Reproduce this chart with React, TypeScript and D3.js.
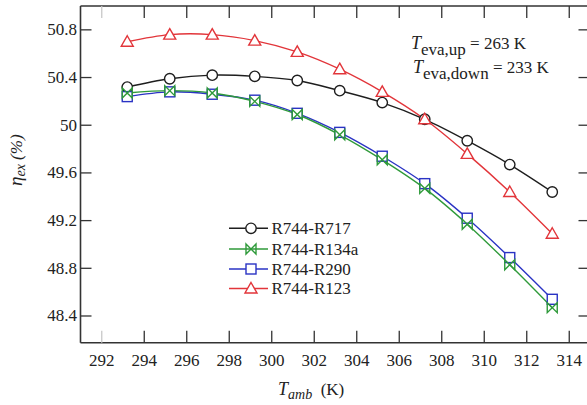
import React from "react";
import * as d3 from "d3";

const tamb = [293.2, 295.2, 297.2, 299.2, 301.2, 303.2, 305.2, 307.2, 309.2, 311.2, 313.2];
const r717 = [50.32, 50.39, 50.42, 50.41, 50.375, 50.29, 50.19, 50.05, 49.87, 49.67, 49.44];
const r134a = [50.27, 50.29, 50.27, 50.2, 50.09, 49.92, 49.71, 49.47, 49.17, 48.83, 48.47];
const r290 = [50.24, 50.28, 50.26, 50.21, 50.1, 49.94, 49.74, 49.51, 49.22, 48.89, 48.54];
const r123 = [50.7, 50.76, 50.76, 50.71, 50.615, 50.47, 50.28, 50.05, 49.76, 49.44, 49.09];
const xTicks = [292, 294, 296, 298, 300, 302, 304, 306, 308, 310, 312, 314];
const yTicks = [48.4, 48.8, 49.2, 49.6, 50.0, 50.4, 50.8];
const yTickLabels = ["48.4", "48.8", "49.2", "49.6", "50", "50.4", "50.8"];

const seriesNames = ["R744-R717", "R744-R134a", "R744-R290", "R744-R123"];
const seriesValues = [r717, r134a, r290, r123];
const colors = ["#1e1e1e", "#2f9a3a", "#2a33c4", "#e2353a"];
const markers = ["circle", "bowtie", "square", "triangle"];

const W = 587, H = 405;
const x = d3.scaleLinear().domain([291, 315]).range([80.5, 590.5]);
const y = d3.scaleLinear().domain([48.176, 51.0]).range([342.7, 6]);
const font = "Liberation Serif, Tinos, Times New Roman, DejaVu Serif, serif";

function Marker({ kind, cx, cy, color }: { kind: string; cx: number; cy: number; color: string }) {
  const s = 5;
  if (kind === "circle") return <circle cx={cx} cy={cy} r={5.2} fill="white" stroke={color} strokeWidth={1.4} />;
  if (kind === "square") return <rect x={cx - s} y={cy - s} width={2 * s} height={2 * s} fill="white" stroke={color} strokeWidth={1.4} />;
  if (kind === "triangle")
    return <path d={`M${cx},${cy - 6} L${cx + 6},${cy + 4.5} L${cx - 6},${cy + 4.5} Z`} fill="white" stroke={color} strokeWidth={1.4} />;
  return <path d={`M${cx - s},${cy - s} L${cx + s},${cy + s} L${cx + s},${cy - s} L${cx - s},${cy + s} Z`} fill="none" stroke={color} strokeWidth={1.4} />;
}

export default function App() {
  const line = d3.line<number>().x((_, i) => x(tamb[i])).y((d) => y(d)).curve(d3.curveCatmullRom);
  const order = [0, 3, 2, 1];
  const axisColor = "#333";
  const x0 = x.range()[0], x1 = x.range()[1];
  const y0 = y.range()[0], y1 = y.range()[1];
  const legendY = [228.3, 249, 269, 288.5];
  const ts = { fontFamily: font };
  return (
    <svg width={W} height={H} style={{ position: "absolute", left: 0, top: 0, background: "white", fontFamily: font }}>
      <line x1={x0} x2={x0} y1={y1} y2={y0} stroke={axisColor} strokeWidth={1.6} />
      <line x1={x0} x2={x1} y1={y0} y2={y0} stroke={axisColor} strokeWidth={1.6} />
      <line x1={x0} x2={x1} y1={y1} y2={y1} stroke={axisColor} strokeWidth={1.6} />
      <line x1={x1} x2={x1} y1={y1} y2={y0} stroke={axisColor} strokeWidth={1.6} />
      {xTicks.map((t, i) => (
        <g key={"xt" + t}>
          <line x1={x(t)} x2={x(t)} y1={y0} y2={y0 - 12} stroke={i === 0 ? "#c8c8c8" : axisColor} strokeWidth={1.3} />
          <line x1={x(t)} x2={x(t)} y1={y1} y2={y1 + 12} stroke={i === 0 ? "#c8c8c8" : axisColor} strokeWidth={1.3} />
          <text style={ts} x={x(t)} y={366} textAnchor="middle" fontSize={17} fill="#222">{t}</text>
        </g>
      ))}
      {yTicks.map((t, i) => (
        <g key={"yt" + t}>
          <line x1={x0} x2={x0 + 11} y1={y(t)} y2={y(t)} stroke={axisColor} strokeWidth={1.3} />
          <line x1={x1} x2={x1 - 12} y1={y(t)} y2={y(t)} stroke={axisColor} strokeWidth={1.3} />
          <text style={ts} x={77} y={y(t) + 5.5} textAnchor="end" fontSize={17} fill="#222">{yTickLabels[i]}</text>
        </g>
      ))}
      {order.map((k) => (
        <path key={"l" + k} d={line(seriesValues[k]) || ""} fill="none" stroke={colors[k]} strokeWidth={1.4} />
      ))}
      {order.map((k) =>
        seriesValues[k].map((v, i) => <Marker key={"m" + k + "-" + i} kind={markers[k]} cx={x(tamb[i])} cy={y(v)} color={colors[k]} />)
      )}
      {seriesNames.map((n, k) => (
        <g key={"lg" + k}>
          <line x1={229} x2={268} y1={legendY[k]} y2={legendY[k]} stroke={colors[k]} strokeWidth={1.4} />
          <Marker kind={markers[k]} cx={251} cy={legendY[k]} color={colors[k]} />
          <text style={ts} x={271.5} y={legendY[k] + 5.5} fontSize={17} fill="#222">{n}</text>
        </g>
      ))}
      <text style={ts} x={411} y={49} fontSize={17} fill="#222">
        <tspan fontStyle="italic" fontSize={18}>T</tspan>
        <tspan dy={6} fontSize={17}>eva,up</tspan>
        <tspan dy={-6}>{"\u00a0=\u00a0263 K"}</tspan>
      </text>
      <text style={ts} x={413} y={73} fontSize={17} fill="#222">
        <tspan fontStyle="italic" fontSize={18}>T</tspan>
        <tspan dy={6} fontSize={17}>eva,down</tspan>
        <tspan dy={-6}>{"\u00a0=\u00a0233 K"}</tspan>
      </text>
      <text style={ts} x={278} y={395} fontSize={17} fill="#222">
        <tspan fontStyle="italic" fontSize={18}>T</tspan>
        <tspan fontStyle="italic" dy={4} fontSize={14}>amb</tspan>
        <tspan dy={-4}>{"\u00a0\u00a0(K)"}</tspan>
      </text>
      <text style={ts} transform="translate(22,186) rotate(-90)" fontSize={17} fill="#222">
        <tspan fontStyle="italic" fontSize={19}>η</tspan>
        <tspan fontStyle="italic" dy={3} fontSize={14}>ex</tspan>
        <tspan dy={-3} fontStyle="italic">{"\u00a0(%)"}</tspan>
      </text>
    </svg>
  );
}
